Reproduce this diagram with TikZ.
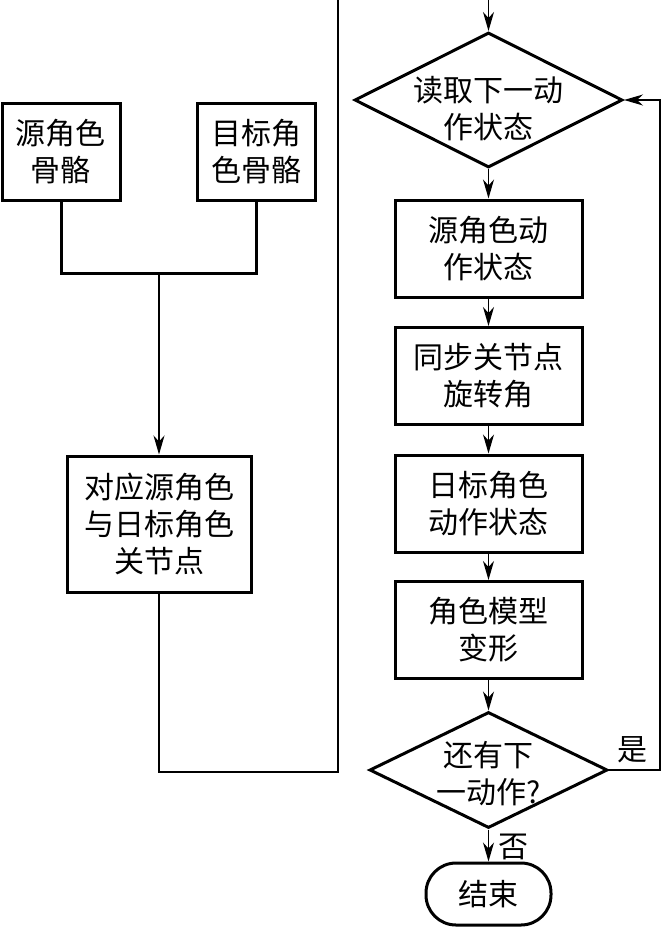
\documentclass[tikz,border=0pt]{standalone}
\usepackage{fontspec}
\newfontfamily\cjk{Noto Sans CJK SC}
\usetikzlibrary{shapes.geometric,arrows.meta}

\begin{document}
\begin{tikzpicture}[
  x=1pt, y=-1pt,
  boxnode/.style={%
    rectangle,%
    draw=black,
    line width=3pt,%
    inner sep=0pt,
    align=center,
    font=\cjk\fontsize{30}{37}\selectfont%
  },
  decnode/.style={%
    diamond,%
    draw=black,
    line width=3pt,%
    inner xsep=-30pt,
    inner ysep=-20pt,
    align=center,
    font=\cjk\fontsize{30}{37}\selectfont%
  },
  endnode/.style={%
    rectangle,%
    rounded corners=30pt,
    draw=black,
    line width=3pt,%
    minimum width=125pt,
    minimum height=62pt,
    font=\cjk\fontsize{30}{37}\selectfont%
  },
  thinline/.style={line width=1.3pt},
  flowarrow/.style={line width=1.3pt, -{Stealth[length=19pt,width=11pt,inset=6pt]}},
  marklabel/.style={font=\cjk\fontsize{30}{37}\selectfont, inner sep=0pt}
]

  \useasboundingbox (0,0) rectangle (662,929);

  % left column
  \node [boxnode, minimum width=118pt, minimum height=97pt] (srcskel) at (61,151.5) {源角色\\骨骼};
  \node [boxnode, minimum width=118pt, minimum height=97pt] (tgtskel) at (256,151.5) {目标角\\色骨骼};
  \node [boxnode, minimum width=184pt, minimum height=136pt] (mapjoint) at (159,524) {对应源角色\\与日标角色\\关节点};

  \coordinate (merge) at (159,273);
  \coordinate (bend) at (338,772);
  \coordinate (topleft) at (338,0);
  \coordinate (topright) at (488.5,0);
  \coordinate (loopcorner) at (660,770);

  % right column
  \node [decnode, minimum width=268pt, minimum height=135pt] (readnext) at (488.5,100) {\rule{0pt}{42pt}读取下一动\\作状态};
  \node [boxnode, minimum width=187pt, minimum height=97pt] (srcact) at (488.5,248.5) {源角色动\\作状态};
  \node [boxnode, minimum width=187pt, minimum height=97pt] (syncrot) at (488.5,376) {同步关节点\\旋转角};
  \node [boxnode, minimum width=187pt, minimum height=97pt] (tgtact) at (488.5,503.5) {日标角色\\动作状态};
  \node [boxnode, minimum width=187pt, minimum height=97pt] (deform) at (488.5,630) {角色模型\\变形};
  \node [decnode, minimum width=238pt, minimum height=116pt] (hasnext) at (488.5,770) {\rule{0pt}{32pt}还有下\\一动作?};
  \node [endnode] (finish) at (488.5,894) {结束};

  \draw[line width=3pt] (srcskel.south) |- (merge) -| (tgtskel.south);
  \draw[flowarrow] (merge) -- (mapjoint.north);
  \draw[thinline] (mapjoint.south) |- (bend) -- (topleft);

  \draw[flowarrow] (topright) -- (readnext.north);
  \draw[flowarrow] (readnext.south) -- (srcact.north);
  \draw[flowarrow] (srcact.south) -- (syncrot.north);
  \draw[flowarrow] (syncrot.south) -- (tgtact.north);
  \draw[flowarrow] (tgtact.south) -- (deform.north);
  \draw[flowarrow] (deform.south) -- (hasnext.north);
  \draw[flowarrow] (hasnext.south) -- (finish.north);
  \draw[flowarrow] (hasnext.east) -- (loopcorner) |- (readnext.east);

  \node [marklabel] (yes) at (632,750) {是};
  \node [marklabel] (no) at (513,847) {否};

\end{tikzpicture}
\end{document}
